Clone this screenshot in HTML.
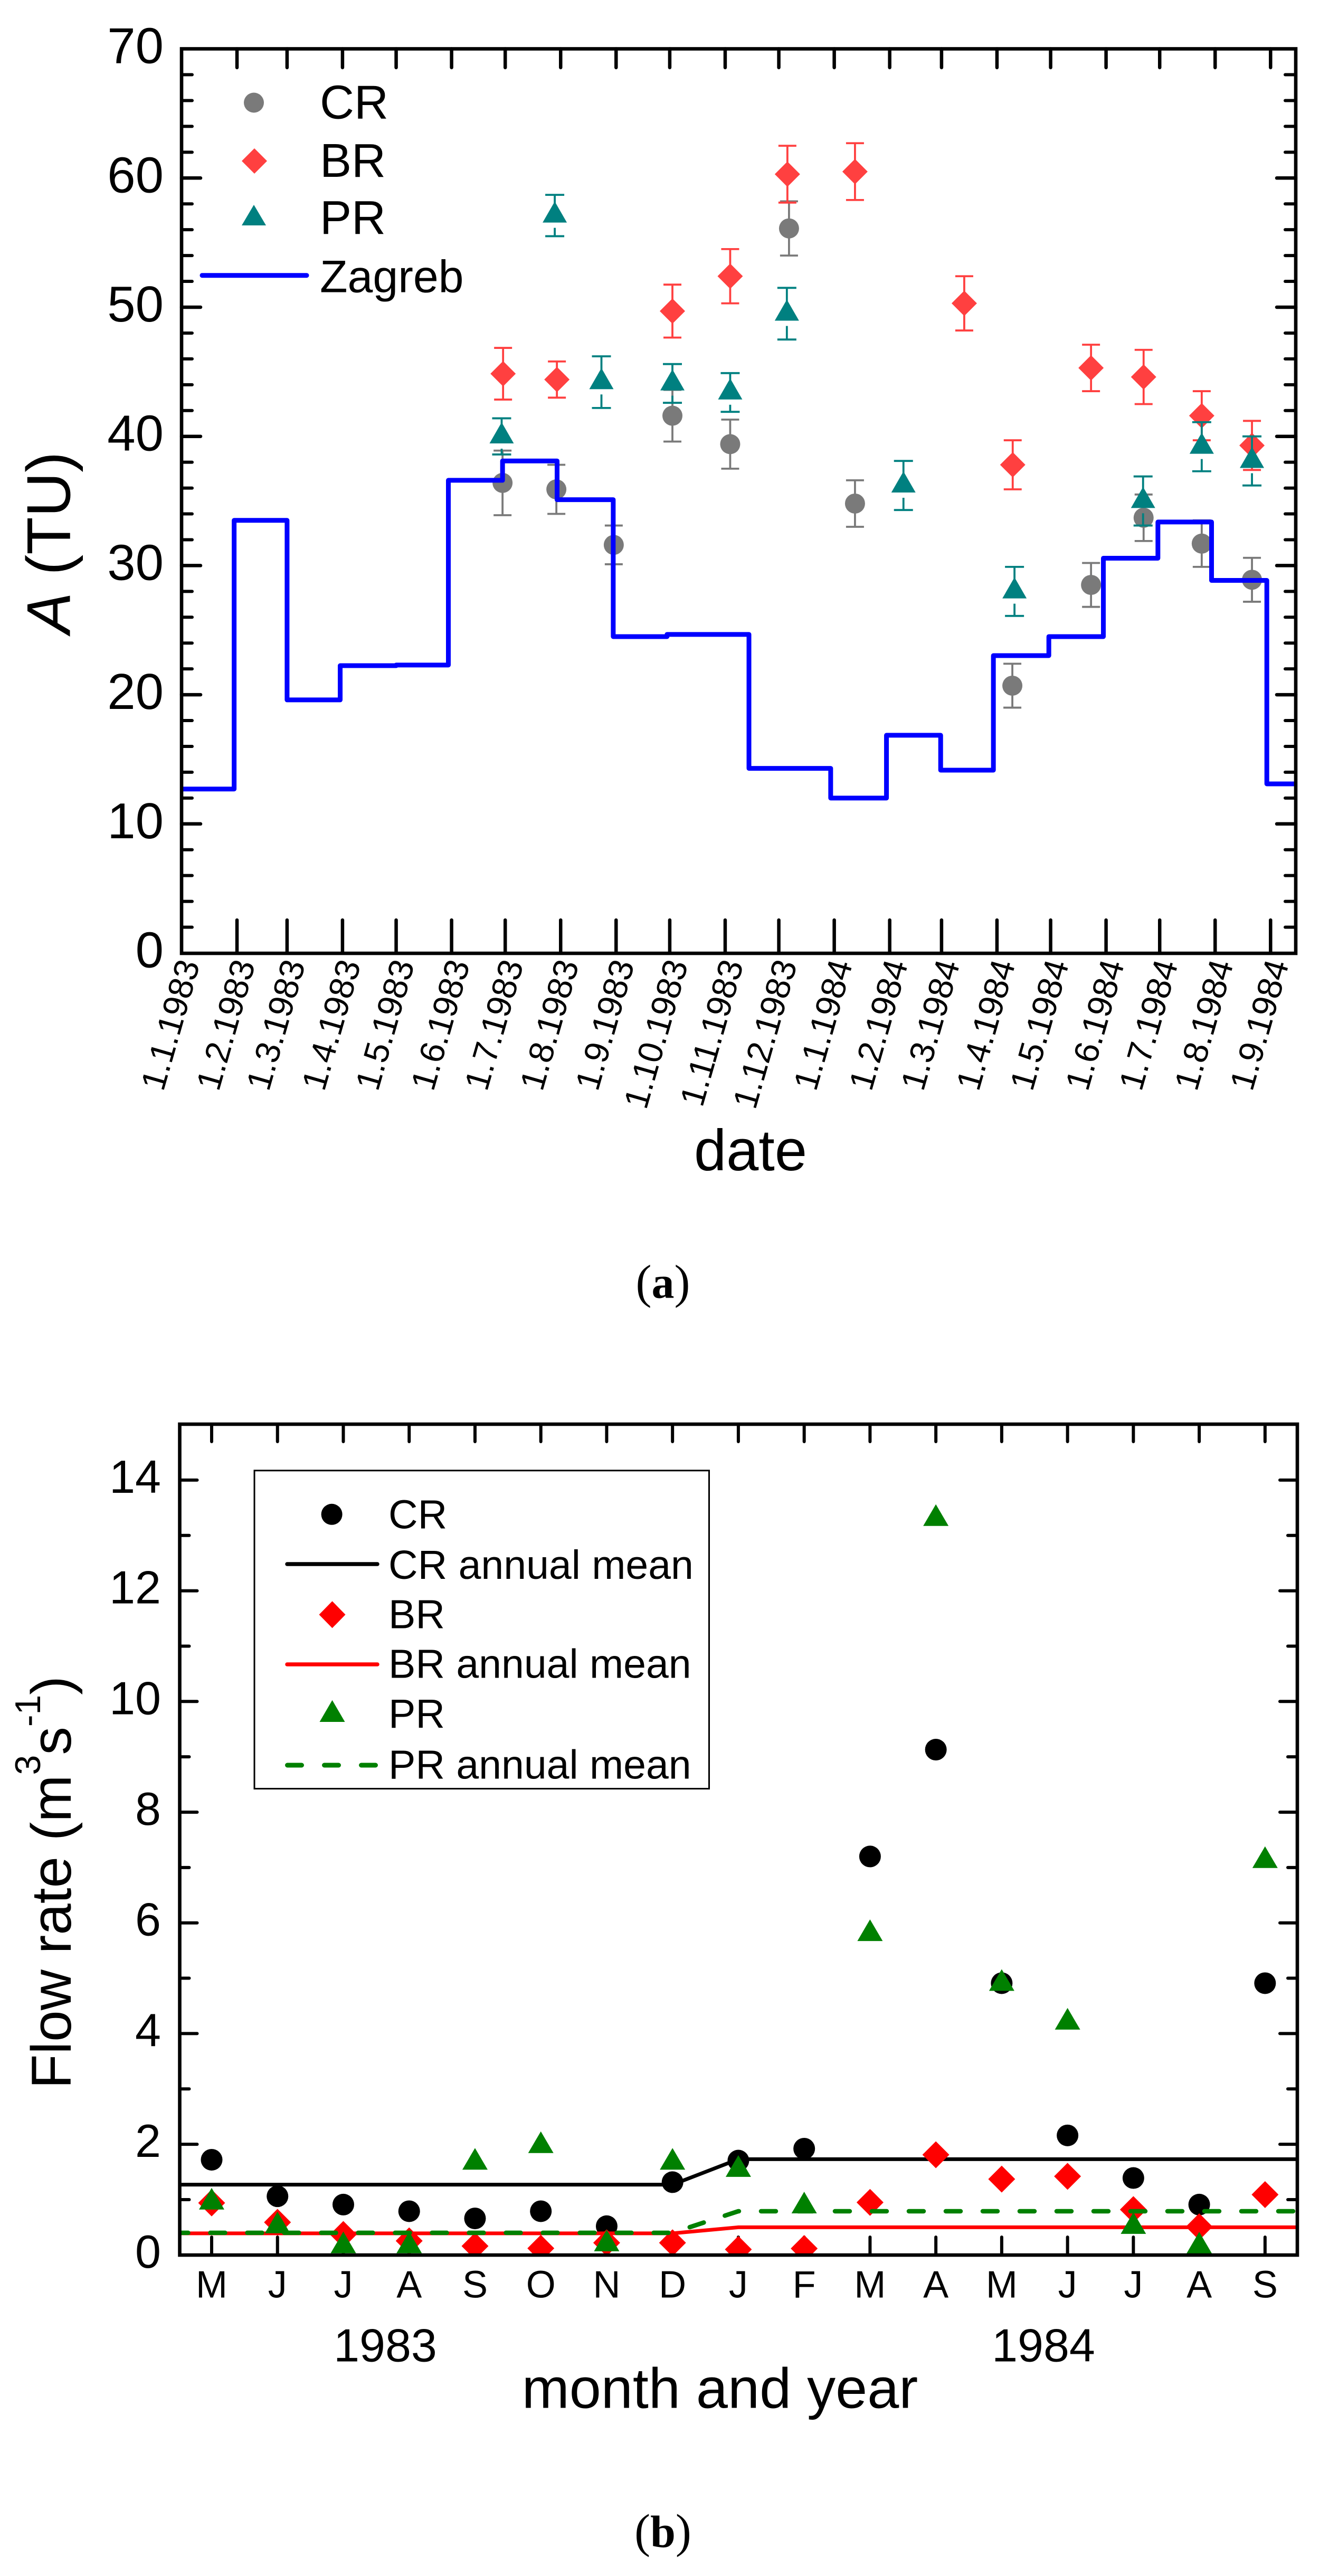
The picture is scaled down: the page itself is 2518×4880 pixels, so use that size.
<!DOCTYPE html>
<html lang="en">
<head>
<meta charset="utf-8">
<title>Tritium activity and flow rate</title>
<style>
html,body{margin:0;padding:0;background:#fff;}
svg{display:block;}
text{font-family:"Liberation Sans",Arial,sans-serif;fill:#000;}
.cap{font-family:"Liberation Serif","Times New Roman",serif;font-size:90px;}
</style>
</head>
<body>
<svg id="fig" xmlns="http://www.w3.org/2000/svg" width="2518" height="4880" viewBox="0 0 2518 4880">
  <defs>
    <clipPath id="clip-b"><rect x="340" y="2698" width="2118" height="1574"/></clipPath>
  </defs>
  <rect x="0" y="0" width="2518" height="4880" fill="#fff"/>

  <g id="panel-a">
    <g id="a-ticks"></g>
    <g id="a-marks"></g>
    <rect x="344" y="92.5" width="2111" height="1713.5" fill="none" stroke="#000" stroke-width="6.6"/>
    <g id="a-labels"></g>
    <text transform="translate(132.5,1028) rotate(-90)" text-anchor="middle" font-size="117"><tspan font-style="italic">A</tspan> (TU)</text>
    <text x="1422" y="2217" text-anchor="middle" font-size="110">date</text>
    <g>
      <circle cx="481" cy="194.5" r="19" fill="#7a7a7a"/>
      <text x="606" y="224.5" font-size="90">CR</text>
      <polygon points="482,281 506,305 482,329 458,305" fill="#ff4040"/>
      <text x="606" y="335" font-size="90">BR</text>
      <polygon points="481,388 504,427 458,427" fill="#008080"/>
      <text x="606" y="443" font-size="90">PR</text>
      <line x1="383" y1="521.7" x2="581" y2="521.7" stroke="#0000ff" stroke-width="9" stroke-linecap="round"/>
      <text x="606" y="553.6" font-size="86">Zagreb</text>
    </g>
  </g>
  <text class="cap" x="1256" y="2458.7" text-anchor="middle">(<tspan font-weight="bold" font-size="86">a</tspan>)</text>

  <g id="panel-b">
    <g id="b-ticks"></g>
    <g id="b-marks" clip-path="url(#clip-b)"></g>
    <rect x="340.5" y="2698" width="2117.5" height="1574" fill="none" stroke="#000" stroke-width="6.6"/>
    <g id="b-labels"></g>
    <text x="730" y="4473.5" text-anchor="middle" font-size="88">1983</text>
    <text x="1977" y="4473.5" text-anchor="middle" font-size="88">1984</text>
    <text x="1364" y="4561.6" text-anchor="middle" font-size="108">month and year</text>
    <text transform="translate(134,3957) rotate(-90)" font-size="107">Flow rate (m<tspan font-size="68" dy="-58">3</tspan><tspan dy="58">s</tspan><tspan font-size="68" dy="-58">-1</tspan><tspan dy="58">)</tspan></text>
    <g>
      <rect x="482" y="2785.8" width="861.5" height="602.7" fill="none" stroke="#000" stroke-width="3"/>
      <circle cx="628.6" cy="2868.8" r="20" fill="#000"/>
      <text x="736" y="2895.5" font-size="77">CR</text>
      <line x1="544" y1="2963" x2="715" y2="2963" stroke="#000" stroke-width="7.5" stroke-linecap="round"/>
      <text x="736" y="2991" font-size="77">CR annual mean</text>
      <polygon points="629.5,3033.3 654.5,3058.8 629.5,3084.3 604.5,3058.8" fill="#ff0000"/>
      <text x="736" y="3084.3" font-size="77">BR</text>
      <line x1="544" y1="3153" x2="715" y2="3153" stroke="#ff0000" stroke-width="7.5" stroke-linecap="round"/>
      <text x="736" y="3178.7" font-size="77">BR annual mean</text>
      <polygon points="629.5,3220.8 653.5,3262 605.5,3262" fill="#008000"/>
      <text x="736" y="3273" font-size="77">PR</text>
      <line x1="544.5" y1="3344" x2="716" y2="3344" stroke="#008000" stroke-width="9" stroke-linecap="round" stroke-dasharray="27 43"/>
      <text x="736" y="3369.4" font-size="77">PR annual mean</text>
    </g>
  </g>
  <text class="cap" x="1256" y="4825" text-anchor="middle">(<tspan font-weight="bold" font-size="86">b</tspan>)</text>
</svg>

<script>
// ---- Panel (a) data: days since 1.1.1983, activity in TU ----
const dateLabels = ["1.1.1983","1.2.1983","1.3.1983","1.4.1983","1.5.1983","1.6.1983","1.7.1983","1.8.1983","1.9.1983","1.10.1983","1.11.1983","1.12.1983","1.1.1984","1.2.1984","1.3.1984","1.4.1984","1.5.1984","1.6.1984","1.7.1984","1.8.1984","1.9.1984"];
const dateDays = [0,31,59,90,120,151,181,212,243,273,304,334,365,396,425,456,486,517,547,578,609];
const aYTicks = [0,10,20,30,40,50,60,70];

const crDays = [179.5,209.6,241.7,274.5,306.8,339.7,376.6,464.6,508.6,538,570.5,598.6];
const crVals = [36.4,35.9,31.6,41.6,39.4,56.1,34.8,20.7,28.5,33.7,31.7,28.9];
const crErrs = [2.5,1.9,1.5,2.0,1.9,2.1,1.8,1.7,1.7,1.8,1.8,1.7];

const brDays = [179.8,209.9,274.5,306.8,338.8,376.6,437.7,464.8,508.6,538,570.5,598.6];
const brVals = [44.85,44.4,49.7,52.4,60.3,60.5,50.3,37.8,45.3,44.6,41.6,39.3];
const brErrs = [2.0,1.4,2.05,2.1,2.2,2.2,2.1,1.9,1.8,2.1,1.9,1.9];

const prDays = [179,208.7,234.8,274.5,306.8,338.5,403.7,465.8,537.7,570.5,598.6];
const prVals = [40.0,57.1,44.2,44.1,43.4,49.5,36.2,28.0,35.0,39.2,38.1];
const prErrs = [1.4,1.6,2.0,1.5,1.5,2.0,1.9,1.9,1.9,1.9,1.9];

const zagrebEdges = [0,29.4,59,88.7,120,149.2,179.5,210,241.4,271.5,317.3,363,394.2,424.5,454,485,515.5,546,576,606.9,623.1];
const zagrebVals = [12.7,33.5,19.6,22.25,22.3,36.6,38.1,35.1,24.5,24.67,14.3,12.0,16.86,14.16,23.03,24.5,30.57,33.37,28.85,13.1];

// ---- Panel (b) data: monthly flow rate, m3/s ----
const monthLabels = ["M","J","J","A","S","O","N","D","J","F","M","A","M","J","J","A","S"];
const bYTicks = [0,2,4,6,8,10,12,14];
const flowCR = [1.72,1.06,0.91,0.79,0.66,0.79,0.52,1.315,1.705,1.92,7.2,9.13,4.91,2.16,1.39,0.91,4.91];
const flowBR = [0.94,0.59,0.37,0.255,0.16,0.12,0.22,0.22,0.10,0.116,0.95,1.81,1.37,1.42,0.82,0.51,1.09];
const flowPR = [0.95,0.52,0.16,0.16,1.67,1.97,0.195,1.67,1.54,0.88,5.8,13.3,4.90,4.2,0.51,0.155,7.12];
const meanCR = [1.27,1.27,1.27,1.27,1.27,1.27,1.27,1.27,1.73,1.73,1.73,1.73,1.73,1.73,1.73,1.73,1.73];
const meanBR = [0.39,0.39,0.39,0.39,0.39,0.39,0.39,0.39,0.50,0.50,0.50,0.50,0.50,0.50,0.50,0.50,0.50];
const meanPR = [0.40,0.40,0.40,0.40,0.40,0.40,0.40,0.40,0.79,0.79,0.79,0.79,0.79,0.79,0.79,0.79,0.79];

// ---- Axis functions ----
const xA = d => 344 + 3.388 * d;
const yA = v => 1805.5 - 24.47 * v;
const xB = i => 401 + 124.74 * i;
const yB = v => 4271.8 - 104.85 * v;

const NS = 'http://www.w3.org/2000/svg';
function add(parentId, tag, attrs, txt) {
  const n = document.createElementNS(NS, tag);
  for (const k in attrs) n.setAttribute(k, attrs[k]);
  if (txt !== undefined) n.textContent = txt;
  document.getElementById(parentId).appendChild(n);
  return n;
}

let el;
// ---- Panel (a) axes ----
for (let v = 0; v <= 70; v += 2) {
  if (v === 0 || v === 70) continue;
  const major = v % 10 === 0;
  const len = major ? 36 : 20;
  const w = major ? 6.5 : 6;
  el = add('a-ticks', 'line', {x1: 344, y1: yA(v), x2: 344 + len, y2: yA(v), stroke: '#000', 'stroke-width': w, 'stroke-linecap': 'round'});
  
  
  el = add('a-ticks', 'line', {x1: 2455, y1: yA(v), x2: 2455 - len, y2: yA(v), stroke: '#000', 'stroke-width': w, 'stroke-linecap': 'round'});
  
  
}
dateDays.forEach((d, i) => {
  if (i > 0) {
    el = add('a-ticks', 'line', {x1: xA(d), y1: 92.5, x2: xA(d), y2: 128, stroke: '#000', 'stroke-width': 6.5, 'stroke-linecap': 'round'});
    
    
    el = add('a-ticks', 'line', {x1: xA(d), y1: 1805.5, x2: xA(d), y2: 1743, stroke: '#000', 'stroke-width': 6.5, 'stroke-linecap': 'round'});
    
    
  }
  el = add('a-labels', 'text', {transform: `translate(${xA(d) + 35},1826) rotate(-74)`, 'text-anchor': 'end', 'font-size': 65}, dateLabels[i]);
  
  
});
aYTicks.forEach(v => {
  el = add('a-labels', 'text', {x: 310, y: yA(v) + 27, 'text-anchor': 'end', 'font-size': 96}, String(v));
  
  
});

// ---- Panel (a) marks ----
function errBar(group, x, yTop, yBot, yStemBottom, color) {
  const n = document.createElementNS(NS, 'path');
  n.setAttribute('d', `M${x - 17} ${yTop}H${x + 17}M${x} ${yTop}V${yStemBottom}M${x} ${yStemBottom}V${yBot}M${x - 17} ${yBot}H${x + 17}`);
  n.setAttribute('stroke', color);
  n.setAttribute('stroke-width', 3.8);
  n.setAttribute('fill', 'none');
  group.appendChild(n);
  return n;
}
const aMarks = document.getElementById('a-marks');

crDays.forEach((d, i) => {
  const x = xA(d), y = yA(crVals[i]);
  el = errBar(aMarks, x, yA(crVals[i] + crErrs[i]), yA(crVals[i] - crErrs[i]), y, '#7a7a7a');
  
  
  el = add('a-marks', 'circle', {cx: x, cy: y, r: 19, fill: '#7a7a7a'});
  
  
});
brDays.forEach((d, i) => {
  const x = xA(d), y = yA(brVals[i]);
  el = errBar(aMarks, x, yA(brVals[i] + brErrs[i]), yA(brVals[i] - brErrs[i]), y, '#ff4040');
  
  
  el = add('a-marks', 'polygon', {points: `${x},${y - 24} ${x + 24},${y} ${x},${y + 24} ${x - 24},${y}`, fill: '#ff4040'});
  
  
});
prDays.forEach((d, i) => {
  const x = xA(d), y = yA(prVals[i]);
  const top = yA(prVals[i] + prErrs[i]), bot = yA(prVals[i] - prErrs[i]);
  const triBottom = y + 13.3;
  const n = document.createElementNS(NS, 'path');
  n.setAttribute('d', `M${x - 18} ${top}H${x + 18}M${x} ${top}V${y}M${x} ${Math.min(triBottom + 10, bot)}V${bot}M${x - 18} ${bot}H${x + 18}`);
  n.setAttribute('stroke', '#008080');
  n.setAttribute('stroke-width', 3.8);
  n.setAttribute('fill', 'none');
  aMarks.appendChild(n);
  
  
  el = add('a-marks', 'polygon', {points: `${x},${y - 26.7} ${x + 23},${y + 13.3} ${x - 23},${y + 13.3}`, fill: '#008080'});
  
  
});
let stepPath = `M${xA(zagrebEdges[0])} ${yA(zagrebVals[0])}`;
zagrebVals.forEach((v, i) => {
  stepPath += `V${yA(v)}H${xA(zagrebEdges[i + 1])}`;
});
el = add('a-marks', 'path', {d: stepPath, fill: 'none', stroke: '#0000ff', 'stroke-width': 9, 'stroke-linejoin': 'round'});



// ---- Panel (b) axes ----
for (let v = 1; v <= 14; v += 1) {
  const major = v % 2 === 0;
  const len = major ? 33 : 18;
  el = add('b-ticks', 'line', {x1: 340.5, y1: yB(v), x2: 340.5 + len, y2: yB(v), stroke: '#000', 'stroke-width': 6, 'stroke-linecap': 'round'});
  
  
  el = add('b-ticks', 'line', {x1: 2458, y1: yB(v), x2: 2458 - len, y2: yB(v), stroke: '#000', 'stroke-width': 6, 'stroke-linecap': 'round'});
  
  
}
monthLabels.forEach((m, i) => {
  el = add('b-ticks', 'line', {x1: xB(i), y1: 2698, x2: xB(i), y2: 2731, stroke: '#000', 'stroke-width': 6, 'stroke-linecap': 'round'});
  
  
  el = add('b-ticks', 'line', {x1: xB(i), y1: 4272, x2: xB(i), y2: 4238, stroke: '#000', 'stroke-width': 6, 'stroke-linecap': 'round'});
  
  
  el = add('b-labels', 'text', {x: xB(i), y: 4352.7, 'text-anchor': 'middle', 'font-size': 72}, m);
  
  
});
bYTicks.forEach(v => {
  el = add('b-labels', 'text', {x: 305, y: yB(v) + 24, 'text-anchor': 'end', 'font-size': 88}, String(v));
  
  
});

// ---- Panel (b) marks ----
function linePath(vals) {
  let p = `M340.5 ${yB(vals[0])}`;
  vals.forEach((v, i) => { p += `L${xB(i)} ${yB(v)}`; });
  return p + `L2458 ${yB(vals[vals.length - 1])}`;
}
flowCR.forEach((v, i) => {
  el = add('b-marks', 'circle', {cx: xB(i), cy: yB(v), r: 20.5, fill: '#000'});
  
  
});
el = add('b-marks', 'path', {d: linePath(meanCR), fill: 'none', stroke: '#000', 'stroke-width': 7});


flowBR.forEach((v, i) => {
  const x = xB(i), y = yB(v);
  el = add('b-marks', 'polygon', {points: `${x},${y - 25.5} ${x + 25.5},${y} ${x},${y + 25.5} ${x - 25.5},${y}`, fill: '#ff0000'});
  
  
});
el = add('b-marks', 'path', {d: linePath(meanBR), fill: 'none', stroke: '#ff0000', 'stroke-width': 7});


flowPR.forEach((v, i) => {
  const x = xB(i), y = yB(v);
  el = add('b-marks', 'polygon', {points: `${x},${y - 27.5} ${x + 24},${y + 13.5} ${x - 24},${y + 13.5}`, fill: '#008000'});
  
  
});
el = add('b-marks', 'path', {d: linePath(meanPR), fill: 'none', stroke: '#008000', 'stroke-width': 8.5, 'stroke-linecap': 'round', 'stroke-dasharray': '28 42', 'stroke-dashoffset': 12});


</script>
</body>
</html>
